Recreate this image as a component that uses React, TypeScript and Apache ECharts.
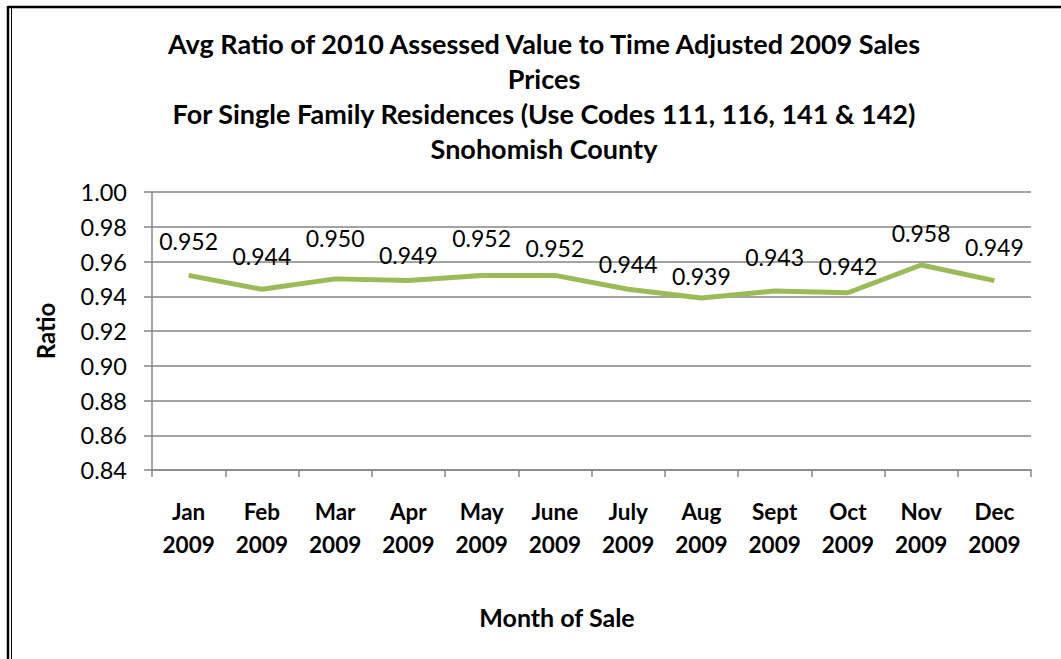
import React, { useEffect, useRef } from "react";
import * as echarts from "echarts";

const months = ["Jan\n2009", "Feb\n2009", "Mar\n2009", "Apr\n2009", "May\n2009", "June\n2009", "July\n2009", "Aug\n2009", "Sept\n2009", "Oct\n2009", "Nov\n2009", "Dec\n2009"];
const ratios = [0.952, 0.944, 0.950, 0.949, 0.952, 0.952, 0.944, 0.939, 0.943, 0.942, 0.958, 0.949];
// vertical distance (px) from each point to its value label's centre, as placed in the reference
const labelLift = [34, 33, 41, 26, 37, 27, 25, 22, 34, 27, 32, 34];
const titleLines = [
  "Avg Ratio of 2010 Assessed Value to Time Adjusted 2009 Sales",
  "Prices",
  "For Single Family Residences (Use Codes 111, 116, 141 & 142)",
  "Snohomish County",
];
const yName = "Ratio";
const xName = "Month of Sale";

const FONT = "Lato";

export default function App() {
  const ref = useRef<HTMLDivElement>(null);
  useEffect(() => {
    if (!ref.current) return;
    const chart = echarts.init(ref.current, undefined, { renderer: "svg" });
    chart.setOption({
      animation: false,
      backgroundColor: "#ffffff",
      textStyle: { fontFamily: FONT },
      title: [
        {
          text: titleLines.join("\n"),
          left: 544,
          top: 26,
          padding: 0,
          textAlign: "center",
          textStyle: { fontFamily: FONT, fontWeight: "bold", fontSize: 27, lineHeight: 35, color: "#000" },
        },
        {
          text: xName,
          left: 557,
          top: 604,
          padding: 0,
          textAlign: "center",
          textStyle: { fontFamily: FONT, fontWeight: "bold", fontSize: 25, lineHeight: 26, color: "#000" },
        },
      ],
      grid: { left: 152, top: 192, right: 30, bottom: 189, containLabel: false },
      xAxis: {
        type: "category",
        data: months,
        boundaryGap: true,
        axisLine: { lineStyle: { color: "#868686", width: 1.5 } },
        axisTick: { show: true, length: 7, interval: 0, lineStyle: { color: "#868686", width: 1.5 } },
        axisLabel: {
          interval: 0,
          margin: 25,
          fontFamily: FONT,
          fontWeight: "bold",
          fontSize: 22.5,
          lineHeight: 33,
          color: "#000",
        },
      },
      yAxis: {
        type: "value",
        min: 0.84,
        max: 1.0,
        interval: 0.02,
        name: yName,
        nameLocation: "middle",
        nameGap: 95,
        nameRotate: 90,
        nameTextStyle: { fontFamily: FONT, fontWeight: "bold", fontSize: 24, color: "#000" },
        axisLine: { show: true, lineStyle: { color: "#868686", width: 1.5 } },
        axisTick: { show: true, length: 8, lineStyle: { color: "#868686", width: 1.5 } },
        splitLine: { show: true, lineStyle: { color: "#868686", width: 1.5 } },
        axisLabel: {
          margin: 25,
          fontFamily: FONT,
          fontSize: 23.5,
          color: "#000",
          formatter: (v: number) => v.toFixed(2),
        },
      },
      series: [
        {
          type: "line",
          data: ratios.map((v, i) => ({
            value: v,
            label: { offset: [0, -(labelLift[i] - 11.5)] },
          })),
          symbol: "circle",
          symbolSize: 0,
          showSymbol: true,
          lineStyle: { color: "#9BBB59", width: 5 },
          itemStyle: { color: "#9BBB59" },
          label: {
            show: true,
            position: "top",
            distance: 0,
            fontFamily: FONT,
            fontSize: 23,
            lineHeight: 23,
            color: "#000",
            formatter: (p: any) => Number(p.value).toFixed(3),
          },
        },
      ],
      graphic: [
        { type: "line", shape: { x1: 8, y1: 7, x2: 1061, y2: 7 }, style: { stroke: "#000", lineWidth: 2.5 } },
        { type: "line", shape: { x1: 8, y1: 6, x2: 8, y2: 659 }, style: { stroke: "#000", lineWidth: 2.5 } },
        { type: "line", shape: { x1: 11.5, y1: 8, x2: 11.5, y2: 659 }, style: { stroke: "#000", lineWidth: 1 } },
      ],
    });
    return () => chart.dispose();
  }, []);
  return (
    <div
      ref={ref}
      style={{ position: "fixed", left: 0, top: 0, width: 1061, height: 659 }}
    />
  );
}
